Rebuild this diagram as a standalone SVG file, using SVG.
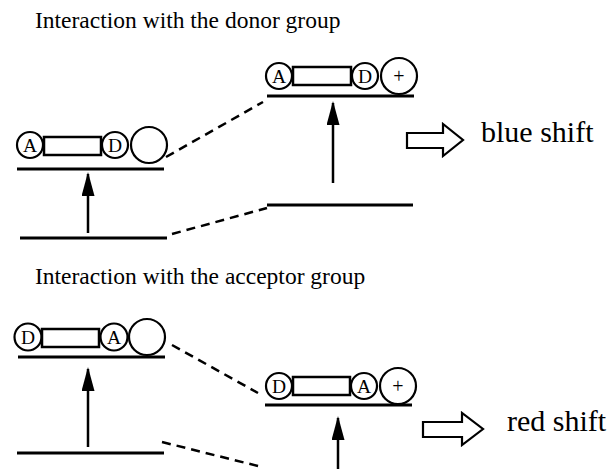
<svg xmlns="http://www.w3.org/2000/svg" width="610" height="469" viewBox="0 0 610 469">
<defs>
<style>
.t{font-family:"Liberation Serif","Times New Roman",serif;fill:#000}
.title{font-size:23.5px}
.big{font-size:30px}
.lab{font-size:19.5px;text-anchor:middle}
.pl{font-size:20px;text-anchor:middle}
.lv{stroke:#000;stroke-width:3;fill:none}
.c{stroke:#000;stroke-width:2.2;fill:#fff}
.r{stroke:#000;stroke-width:2.5;fill:#fff}
.ar{stroke:#000;stroke-width:2.5;fill:none}
.dash{stroke:#000;stroke-width:2.5;fill:none;stroke-dasharray:9 6}
.blk{stroke:#000;stroke-width:2.2;fill:#fff;stroke-linejoin:miter}
</style>
<marker id="ah" markerUnits="userSpaceOnUse" markerWidth="26" markerHeight="14" refX="22" refY="6.5" orient="auto">
<path d="M0,0 L24,6.5 L0,13 Z" fill="#000"/>
</marker>
</defs>
<rect width="610" height="469" fill="#fff"/>

<text class="t title" x="35" y="28">Interaction with the donor group</text>
<text class="t title" x="35" y="284">Interaction with the acceptor group</text>

<g id="donor-ground-left">
<line class="lv" x1="20" y1="238" x2="167" y2="238"/>
</g>
<g id="donor-excited-left">
<line class="lv" x1="17" y1="169" x2="164" y2="169"/>
<circle class="c" cx="30" cy="145" r="13"/>
<text class="t lab" x="30" y="152">A</text>
<rect class="r" x="44" y="137" width="57" height="18"/>
<circle class="c" cx="115" cy="145" r="13"/>
<text class="t lab" x="115" y="152">D</text>
<circle class="c" cx="149" cy="145" r="18"/>
</g>
<g id="donor-ground-right">
<line class="lv" x1="267" y1="205" x2="413" y2="205"/>
</g>
<g id="donor-excited-right">
<line class="lv" x1="267" y1="96" x2="414" y2="96"/>
<circle class="c" cx="279" cy="76" r="13"/>
<text class="t lab" x="279" y="83">A</text>
<rect class="r" x="293" y="67" width="58" height="18"/>
<circle class="c" cx="365" cy="76" r="13"/>
<text class="t lab" x="365" y="83">D</text>
<circle class="c" cx="399" cy="76" r="18"/>
<text class="t pl" x="399" y="83">+</text>
</g>
<g id="blue-shift">
<polygon class="blk" points="407,133 443,133 443,124 463,140 443,156 443,148 407,148"/>
<text class="t big" x="481" y="142">blue shift</text>
</g>

<g id="acceptor-ground-left">
<line class="lv" x1="17" y1="453" x2="164" y2="453"/>
</g>
<g id="acceptor-excited-left">
<line class="lv" x1="18" y1="357" x2="165" y2="357"/>
<circle class="c" cx="28" cy="337" r="13.5"/>
<text class="t lab" x="28" y="344">D</text>
<rect class="r" x="42" y="329" width="57" height="18"/>
<circle class="c" cx="114" cy="337" r="13.5"/>
<text class="t lab" x="114" y="344">A</text>
<circle class="c" cx="147" cy="337" r="18"/>
</g>
<g id="acceptor-excited-right">
<line class="lv" x1="265" y1="405" x2="412" y2="405"/>
<circle class="c" cx="279" cy="386" r="13"/>
<text class="t lab" x="279" y="393">D</text>
<rect class="r" x="293" y="377" width="57" height="18"/>
<circle class="c" cx="364" cy="386" r="13"/>
<text class="t lab" x="364" y="393">A</text>
<circle class="c" cx="398" cy="386" r="18"/>
<text class="t pl" x="398" y="393">+</text>
</g>
<g id="red-shift">
<polygon class="blk" points="423,422 462,422 462,413 483,429 462,445 462,437 423,437"/>
<text class="t big" x="507" y="431">red shift</text>
</g>

<g id="connectors">
<line class="ar" x1="88" y1="233" x2="88" y2="174" marker-end="url(#ah)"/>
<line class="ar" x1="333" y1="183" x2="333" y2="103" marker-end="url(#ah)"/>
<line class="ar" x1="88" y1="447" x2="88" y2="369" marker-end="url(#ah)"/>
<line class="ar" x1="338" y1="475" x2="338" y2="418" marker-end="url(#ah)"/>
<line class="dash" x1="166" y1="157" x2="263" y2="102"/>
<line class="dash" x1="172" y1="234" x2="267" y2="208"/>
<line class="dash" x1="172" y1="345" x2="258" y2="393"/>
<line class="dash" x1="162" y1="442" x2="262" y2="467"/>
</g>
</svg>
